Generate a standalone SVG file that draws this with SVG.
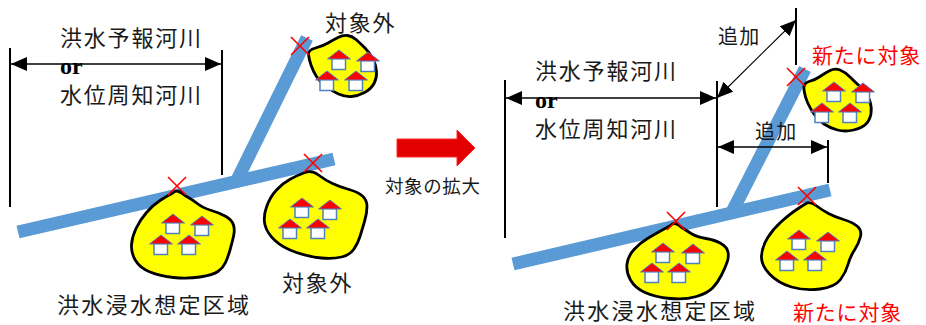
<svg xmlns="http://www.w3.org/2000/svg" xmlns:xlink="http://www.w3.org/1999/xlink" width="926" height="325" viewBox="0 0 926 325">
  <style>
    .river { fill: none; stroke: #5b9bd5; stroke-width: 13; stroke-linecap: butt; }
    .zone { fill: #ffff00; stroke: #000; stroke-width: 2.8; stroke-linejoin: round; }
    .cross { fill: none; stroke: #ff0000; stroke-width: 1.6; }
    .ext { stroke: #000; stroke-width: 2; }
    .dim { stroke: #000; stroke-width: 1.5; fill: none; }
    .dim-thin { stroke: #000; stroke-width: 1.1; fill: none; }
    .lbl { font-family: "Noto Sans CJK JP", "Noto Sans", sans-serif; font-size: 22px; letter-spacing: 1.8px; fill: #1a1a1a; }
    .lbl-s { font-family: "Noto Sans CJK JP", "Noto Sans", sans-serif; font-size: 20px; letter-spacing: 1.2px; fill: #1a1a1a; }
    .lbl-red { font-family: "Noto Sans CJK JP", "Noto Sans", sans-serif; font-size: 21px; letter-spacing: 0.8px; fill: #ff0000; }
    .lbl-arrow { font-family: "Noto Sans CJK JP", "Noto Sans", sans-serif; font-size: 18.5px; letter-spacing: 0.6px; fill: #1a1a1a; }
    .or { font-family: "Liberation Serif", serif; font-weight: bold; font-size: 24px; fill: #000; }
  </style>
  <defs>
    <marker id="ah" viewBox="0 0 16 14" refX="16" refY="7" markerWidth="16" markerHeight="14" markerUnits="userSpaceOnUse" orient="auto-start-reverse">
      <path d="M0,0 L16,7 L0,14 Z" fill="#000"/>
    </marker>
    <!-- house: origin at the roof apex -->
    <g id="house">
      <rect x="-7" y="8.5" width="13.5" height="11" fill="#fff" stroke="#4f81bd" stroke-width="1.5"/>
      <polygon points="0,0 -11.5,9 11.5,9" fill="#ff0000" stroke="#4f81bd" stroke-width="1"/>
    </g>
    <path id="x" d="M-9,-9 L9,9 M9,-9 L-9,9"/>
  </defs>

  <!-- rivers -->
  <g id="rivers">
    <line class="river" x1="18" y1="232" x2="334" y2="159"/>
    <line class="river" x1="236" y1="182" x2="307" y2="38"/>
    <line class="river" x1="513" y1="264" x2="830" y2="190"/>
    <line class="river" x1="732" y1="212" x2="805" y2="69"/>
  </g>

  <!-- dimension lines and arrows -->
  <g id="connectors">
    <line class="ext" x1="10" y1="48" x2="10" y2="207"/>
    <line class="ext" x1="222" y1="50" x2="222" y2="175"/>
    <line class="dim" x1="11" y1="64" x2="221" y2="64" marker-start="url(#ah)" marker-end="url(#ah)"/>

    <line class="ext" x1="505" y1="80" x2="505" y2="238"/>
    <line class="ext" x1="717" y1="81" x2="717" y2="207"/>
    <line class="dim" x1="506" y1="98" x2="716" y2="98" marker-start="url(#ah)" marker-end="url(#ah)"/>

    <line class="ext" x1="796" y1="8" x2="796" y2="65"/>
    <line class="dim-thin" x1="717" y1="98" x2="796" y2="20" marker-start="url(#ah)" marker-end="url(#ah)"/>

    <line class="ext" x1="828" y1="140" x2="828" y2="183"/>
    <line class="dim" x1="718" y1="147" x2="827" y2="147" marker-start="url(#ah)" marker-end="url(#ah)"/>
  </g>

  <!-- left: current state -->
  <g id="zone-left-main">
    <path class="zone" d="M172,193.5 Q177,188 185,195.5 Q193,200 198,204 Q203,208 211.5,210.5 Q220,213 226,216.5 Q232,220 233.5,225 Q235,230 233.5,236.5 Q232,243 230,250 Q228,257 225.5,262.5 Q223,268 218,271.5 Q213,275 200,277 Q187,279 173.5,277.5 Q160,276 150,272 Q140,268 135.5,260.5 Q131,253 131.5,245 Q132,237 136,228.5 Q140,220 146.5,212.5 Q153,205 160,200.5 Q167,196 172,193.5 Z"/>
    <use xlink:href="#house" transform="translate(173,214)"/>
    <use xlink:href="#house" transform="translate(202,216)"/>
    <use xlink:href="#house" transform="translate(161,235)"/>
    <use xlink:href="#house" transform="translate(189,235)"/>
    <use xlink:href="#x" class="cross" transform="translate(177,186)"/>
  </g>
  <g id="zone-left-east">
    <path class="zone" d="M305,172.5 Q312,170 318.5,175 Q325,180 332.5,183.5 Q340,187 349,189.5 Q358,192 362.5,196 Q367,200 367,206.5 Q367,213 364.5,221.5 Q362,230 360,236.5 Q358,243 354,249 Q350,255 341.5,257 Q333,259 321.5,258 Q310,257 296.5,252.5 Q283,248 275,240.5 Q267,233 265,225 Q263,217 266.5,207 Q270,197 276.5,190 Q283,183 290.5,179 Q298,175 305,172.5 Z"/>
    <use xlink:href="#house" transform="translate(302,198)"/>
    <use xlink:href="#house" transform="translate(330,200)"/>
    <use xlink:href="#house" transform="translate(290,219)"/>
    <use xlink:href="#house" transform="translate(318,219)"/>
    <use xlink:href="#x" class="cross" transform="translate(313,163)"/>
  </g>
  <g id="zone-left-north">
    <path class="zone" d="M308.5,54.5 Q308,50 315.5,48 Q323,46 328,43 Q333,40 338,37.5 Q343,35 347.5,35.5 Q352,36 356,39.5 Q360,43 365,48 Q370,53 373,59 Q376,65 376.5,71.5 Q377,78 374,83.5 Q371,89 364.5,92.5 Q358,96 351.5,96.5 Q345,97 338.5,94 Q332,91 326,86.5 Q320,82 316.5,76.5 Q313,71 311,65 Q309,59 308.5,54.5 Z"/>
    <use xlink:href="#house" transform="translate(339,50)"/>
    <use xlink:href="#house" transform="translate(368,52)"/>
    <use xlink:href="#house" transform="translate(327,71)"/>
    <use xlink:href="#house" transform="translate(356,71)"/>
    <use xlink:href="#x" class="cross" transform="translate(300,46)"/>
  </g>

  <!-- right: extended state -->
  <g id="zone-right-main">
    <path class="zone" d="M670.5,225.5 Q675,221 681,227 Q687,231 692,234 Q697,237 706,238.5 Q715,240 721,243.5 Q727,247 728,252 Q729,257 727,262.5 Q725,268 721.5,275 Q718,282 713,287.5 Q708,293 696.5,296.5 Q685,300 670,298.5 Q655,297 645,292.5 Q635,288 630.5,280 Q626,272 627,264 Q628,256 634,249.5 Q640,243 647.5,238.5 Q655,234 660.5,231 Q666,228 670.5,225.5 Z"/>
    <use xlink:href="#house" transform="translate(663,243)"/>
    <use xlink:href="#house" transform="translate(693,244)"/>
    <use xlink:href="#house" transform="translate(652,263)"/>
    <use xlink:href="#house" transform="translate(679,263)"/>
    <use xlink:href="#x" class="cross" transform="translate(676,221)"/>
  </g>
  <g id="zone-right-east">
    <path class="zone" d="M806,203.5 Q810,201 816,205.5 Q822,210 828.5,213.5 Q835,217 843.5,219.5 Q852,222 857,226 Q862,230 860.5,236.5 Q859,243 854.5,250 Q850,257 848,264.5 Q846,272 840.5,279.5 Q835,287 820,289 Q805,291 791.5,287 Q778,283 769.5,274 Q761,265 761.5,256 Q762,247 767.5,238 Q773,229 781.5,221.5 Q790,214 796,210 Q802,206 806,203.5 Z"/>
    <use xlink:href="#house" transform="translate(799,230)"/>
    <use xlink:href="#house" transform="translate(828,232)"/>
    <use xlink:href="#house" transform="translate(787,251)"/>
    <use xlink:href="#house" transform="translate(815,251)"/>
    <use xlink:href="#x" class="cross" transform="translate(807,196)"/>
  </g>
  <g id="zone-right-north">
    <path class="zone" d="M804,90 Q803,83 809,81.5 Q815,80 820,76.5 Q825,73 830,70.5 Q835,68 840,70 Q845,72 850,77 Q855,82 861,87.5 Q867,93 869.5,100 Q872,107 871,113.5 Q870,120 866,124 Q862,128 853.5,130 Q845,132 837.5,130 Q830,128 824,124 Q818,120 814,114 Q810,108 807.5,102.5 Q805,97 804,90 Z"/>
    <use xlink:href="#house" transform="translate(834,82)"/>
    <use xlink:href="#house" transform="translate(863,83)"/>
    <use xlink:href="#house" transform="translate(822,103)"/>
    <use xlink:href="#house" transform="translate(850,103)"/>
    <use xlink:href="#x" class="cross" transform="translate(796,77)"/>
  </g>

  <!-- transition arrow -->
  <g id="expand-arrow">
    <polygon points="397,139 457,139 457,130 475,148 457,166 457,157 397,157" fill="#e30000" stroke="#ff2a2a" stroke-width="1"/>
    <text class="lbl-arrow" x="385" y="193">対象の拡大</text>
  </g>

  <!-- labels -->
  <g id="labels">
    <text class="lbl" x="60" y="46">洪水予報河川</text>
    <text class="or" x="60" y="74">or</text>
    <text class="lbl" x="60" y="103">水位周知河川</text>
    <text class="lbl" x="325" y="31">対象外</text>
    <text class="lbl" x="282" y="291">対象外</text>
    <text class="lbl" x="57" y="313" style="letter-spacing:2.3px">洪水浸水想定区域</text>

    <text class="lbl" x="535" y="79">洪水予報河川</text>
    <text class="or" x="535" y="108">or</text>
    <text class="lbl" x="535" y="137">水位周知河川</text>
    <text class="lbl-s" x="718" y="44">追加</text>
    <text class="lbl-s" x="755" y="139">追加</text>
    <text class="lbl-red" x="812" y="63">新たに対象</text>
    <text class="lbl-red" x="793" y="320">新たに対象</text>
    <text class="lbl" x="563" y="319" style="letter-spacing:2.3px">洪水浸水想定区域</text>
  </g>
</svg>
